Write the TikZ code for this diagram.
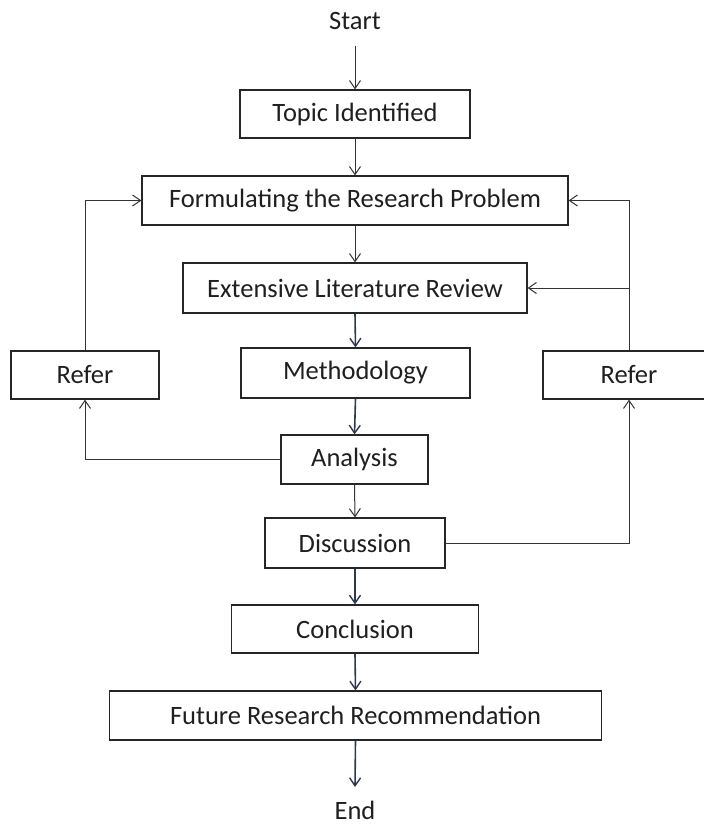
\documentclass[tikz,border=0pt]{standalone}
\usepackage{fontspec}
\setmainfont{Carlito}
\usetikzlibrary{arrows.meta}
\definecolor{dk}{HTML}{2E3A4C}
\begin{document}
\begin{tikzpicture}[x=1pt,y=-1pt,
  box/.style={draw=black!85,line width=1.2pt,minimum height=48pt,inner sep=0pt,font=\fontsize{26.5}{30}\selectfont,text=black!88},
  lbl/.style={inner sep=0pt,font=\fontsize{26.5}{30}\selectfont,text=black!88},
  arr/.style={draw=black!80,line width=1pt,-{Straight Barb[length=8pt,width=11pt,line width=1pt]}},
  darr/.style={draw=dk,line width=1.6pt,-{Straight Barb[length=8pt,width=11pt,line width=1.4pt]}},
  ln/.style={draw=black!80,line width=1pt}]
\clip (0,0) rectangle (704,825);
\fill[white] (0,0) rectangle (704,825);
\node[lbl] (start) at (355,21) {Start};
\node[box,minimum width=230pt] (topic) at (355,114) {Topic Identified};
\node[box,minimum width=426pt,minimum height=49pt] (form) at (355,200.5) {Formulating the Research Problem};
\node[box,minimum width=344pt,minimum height=50pt] (ext) at (355,288) {Extensive Literature Review};
\node[box,minimum width=229pt,minimum height=50pt] (meth) at (355.5,373) {Methodology};
\node[box,minimum width=147pt,minimum height=49pt] (anal) at (354.5,459.5) {Analysis};
\node[box,minimum width=180pt,minimum height=50pt] (disc) at (355,543) {Discussion};
\node[box,minimum width=247pt] (conc) at (355,629) {Conclusion};
\node[box,minimum width=492pt,minimum height=49pt] (fut) at (355.5,715.5) {Future Research Recommendation};
\node[lbl] (end) at (355,810) {End};
\node[box,minimum width=148pt] (referL) at (85,375) {Refer};
\node[box,minimum width=172pt] (referR) at (629,375) {Refer};
\coordinate (sb) at (355,46);
\coordinate (fe) at (355,787);
\draw[arr] (sb) -- (topic.north);
\draw[arr] (topic.south) -- (form.north);
\draw[arr] (form.south) -- (ext.north);
\draw[darr] (ext.south) -- (meth.north);
\draw[darr] (meth.south) -- (anal.north);
\draw[arr] (anal.south) -- (disc.north);
\draw[darr] (disc.south) -- (conc.north);
\draw[darr] (conc.south) -- (fut.north);
\draw[darr] (fut.south) -- (fe);
\draw[arr] (anal.west) -| (referL.south);
\draw[arr] (referL.north) |- (form.west);
\draw[arr] (disc.east) -| (referR.south);
\draw[arr] (referR.north) |- (form.east);
\draw[arr] (referR.north |- ext.east) -- (ext.east);
\end{tikzpicture}
\end{document}
